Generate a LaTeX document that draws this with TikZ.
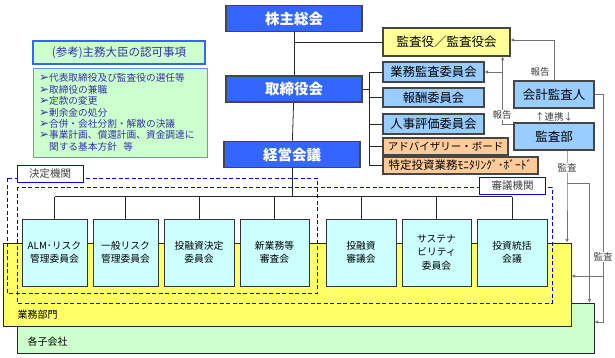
\documentclass[tikz,border=0pt]{standalone}
\usepackage{fontspec}
\setmainfont{Noto Sans CJK JP}
\newfontfamily\symfont{DejaVu Sans}
\usetikzlibrary{arrows.meta}
\definecolor{topblue}{RGB}{51, 102, 255}
\definecolor{topline}{RGB}{70, 70, 70}
\definecolor{lightblue}{RGB}{153, 204, 255}
\definecolor{orangebox}{RGB}{255, 204, 153}
\definecolor{auditbox}{RGB}{255, 255, 153}
\definecolor{cyanbox}{RGB}{204, 255, 255}
\definecolor{bizyellow}{RGB}{255, 255, 102}
\definecolor{subgreen}{RGB}{204, 255, 204}
\definecolor{dashblue}{RGB}{0, 0, 255}
\definecolor{notetext}{RGB}{51, 51, 170}
\definecolor{notebox}{RGB}{102, 140, 255}
\newcommand{\listmark}{{\symfont\fontsize{12}{10}\selectfont ➢}}

\tikzset{
  topbox/.style={draw=topline, line width=1.6pt, fill=topblue, text=white,
    font=\fontsize{14.5}{16}\selectfont\bfseries, minimum width=136pt, minimum height=26pt, inner sep=0pt},
  subbox/.style={draw=topline, line width=1.4pt, fill=lightblue,
    font=\fontsize{12.3}{13}\selectfont, minimum width=101pt, minimum height=20pt, inner sep=0pt},
  boardbox/.style={subbox, fill=orangebox, line width=1.2pt, minimum height=17pt,
    font=\fontsize{10.5}{12}\selectfont},
  cbox/.style={draw=black!80, line width=0.9pt, fill=cyanbox, align=center,
    minimum height=67pt, inner sep=0pt, font=\fontsize{9.8}{13.5}\selectfont},
  dashbox/.style={draw=dashblue, line width=0.9pt, dash pattern=on 4pt off 2.5pt},
  tagbox/.style={draw=dashblue, fill=white, line width=0.9pt, minimum width=66pt,
    minimum height=17pt, inner sep=0pt, text=black!75, font=\fontsize{10.5}{12}\selectfont},
  rep/.style={draw=black!55, line width=0.6pt, -{Latex[length=3.5pt,width=3.5pt]}},
  note/.style={fill=white, inner sep=0.5pt, text=black!75, font=\fontsize{9.5}{10}\selectfont},
  plain/.style={draw=black!85, line width=0.8pt}
}

\begin{document}
\begin{tikzpicture}[x=1pt, y=-1pt]
  \useasboundingbox (0,0) rectangle (615,357);

  % group companies and business divisions
  \node[draw=black!85, line width=1pt, fill=subgreen, minimum width=577pt, minimum height=50pt,
        inner sep=0pt] (kogaisha) at (305.5,328) {};
  \node[anchor=west, font=\fontsize{10}{11}\selectfont] (kogaishalbl) at (24,342) {各子会社};
  \node[draw=black!85, line width=1pt, fill=bizyellow, minimum width=568pt, minimum height=83pt,
        inner sep=0pt] (gyomubu) at (287,284.5) {};
  \node[anchor=west, font=\fontsize{10}{11}\selectfont] (gyomubulbl) at (14,315) {業務部門};

  % reference note
  \node[draw=topblue, line width=1.2pt, fill=subgreen, minimum width=172pt, minimum height=23pt,
        inner sep=0pt, text=notetext, font=\fontsize{11.5}{13}\selectfont] (sankou) at (119,52.5)
        {(参考)主務大臣の認可事項};
  \node[draw=notebox, line width=1pt, fill=subgreen, minimum width=174pt, minimum height=89pt,
        text width=162pt, align=left, inner sep=0pt, text=notetext,
        font=\fontsize{9.7}{11.4}\selectfont] (ninka) at (120,112.5)
        {\listmark 代表取締役及び監査役の選任等\\
         \listmark 取締役の兼職\\
         \listmark 定款の変更\\
         \listmark 剰余金の処分\\
         \listmark 合併・会社分割・解散の決議\\
         \listmark 事業計画、償還計画、資金調達に\\
         \phantom{\listmark}関する基本方針\ \ 等};

  % governing bodies
  \node[topbox] (kabu) at (294,18.5) {株主総会};
  \node[topbox] (torishimari) at (294,89) {取締役会};
  \node[topbox] (keiei) at (292,154.5) {経営会議};
  \node[subbox, fill=auditbox, minimum width=127pt, minimum height=28pt,
        font=\fontsize{12.5}{13}\selectfont] (kansayaku) at (446.5,42) {監査役／監査役会};

  \node[subbox] (gyomukansa) at (433.5,72) {業務監査委員会};
  \node[subbox, minimum height=19pt] (hoshu) at (433.5,97.5) {報酬委員会};
  \node[subbox] (jinji) at (433.5,124) {人事評価委員会};
  \node[boardbox, minimum width=125pt] (advisory) at (445.5,146.5) {アドバイザリー・ボード};
  \node[boardbox, minimum width=155pt, font=\fontsize{11.5}{12}\selectfont] (tokutei) at (460.5,165.5)
        {特定投資業務ﾓﾆﾀﾘﾝｸﾞ･ﾎﾞｰﾄﾞ};

  \node[subbox, minimum width=80pt, minimum height=27pt, font=\fontsize{12.5}{13}\selectfont]
        (kaikei) at (554,94.5) {会計監査人};
  \node[subbox, minimum width=80pt, minimum height=27pt, font=\fontsize{12.5}{13}\selectfont]
        (kansabu) at (554,136.5) {監査部};
  \node[font=\fontsize{9.5}{10}\selectfont, text=black!75, inner sep=0pt] (renkei) at (554,116.5) {↑連携↓};

  \draw[plain] (kabu) -- (torishimari);
  \draw[plain] (torishimari) -- (keiei);
  \draw[plain] (kabu.south |- kansayaku.west) -- (kansayaku.west);
  \draw[plain] (torishimari.east) -- ++(7,0) coordinate (brk);
  \draw[plain] (brk |- gyomukansa.west) -- (brk |- tokutei.west);
  \foreach \n in {gyomukansa,hoshu,jinji,advisory,tokutei}
    \draw[plain] (brk |- \n.west) -- (\n.west);

  % committees
  \node[cbox, minimum width=65pt] (alm) at (54.5,252.5) {ALM･リスク\\管理委員会};
  \node[cbox, minimum width=65pt] (ippan) at (125.5,252.5) {一般リスク\\管理委員会};
  \node[cbox, minimum width=70pt] (kettei) at (199,252.5) {投融資決定\\委員会};
  \node[cbox, minimum width=69pt] (shingyo) at (274.5,252.5) {新業務等\\審査会};
  \node[cbox, minimum width=70pt] (shingi) at (361,252.5) {投融資\\審議会};
  \node[cbox, minimum width=69pt] (sustain) at (436.5,252.5) {サステナ\\ビリティ\\委員会};
  \node[cbox, minimum width=70pt] (toukatsu) at (512,252.5) {投資統括\\会議};

  \draw[plain] (keiei.south) -- ([yshift=22]keiei.south |- alm.north);
  \draw[plain] ([yshift=22]alm.north) -- ([yshift=22]toukatsu.north);
  \foreach \n in {alm,ippan,kettei,shingyo,shingi,sustain,toukatsu}
    \draw[plain] (\n.north) -- ++(0,-22);

  % decision and deliberation bodies
  \draw[dashbox] (7,178) rectangle (317,293);
  \draw[dashbox] (17,187) rectangle (552,303);
  \node[tagbox] (kettei_tag) at (50,174) {決定機関};
  \node[tagbox] (shingi_tag) at (512.5,185.5) {審議機関};

  % reporting and audit lines
  \draw[rep] (kaikei.north) |- ([yshift=2]kansayaku.east);
  \node[note] (rep1) at (540,72) {報告};
  \draw[rep] ([yshift=-2]kansabu.north west) -| ([xshift=-8]kansayaku.south east);
  \draw[rep] ([xshift=-8]kansayaku.south east |- gyomukansa.east) -- (gyomukansa.east);
  \node[note] (rep2) at (502,115) {報告};

  \coordinate (audR) at (603,94.5);
  \draw[rep] (kaikei.east) -- (audR) |- ([yshift=6]kogaisha.east);
  \draw[rep] ([yshift=8.5]gyomubu.east -| audR) -- ([yshift=8.5]gyomubu.east);
  \node[note] (audit1) at (603,257) {監査};

  \coordinate (audB) at (567,183);
  \draw[rep] ([xshift=13]kansabu.south) -- (audB) -- (audB |- gyomubu.north);
  \draw[rep] (audB) -| ([xshift=-5]kogaisha.north east);
  \node[note] (audit2) at (567,168) {監査};
\end{tikzpicture}
\end{document}
